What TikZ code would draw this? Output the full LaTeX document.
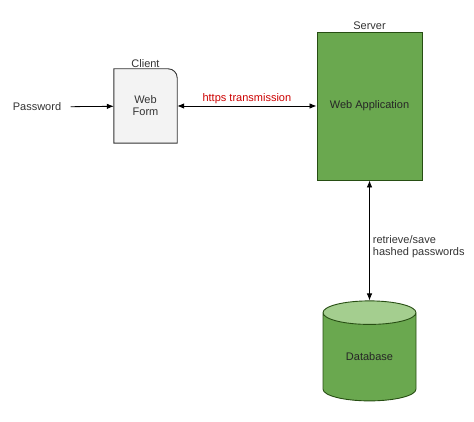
\documentclass[tikz,border=0pt]{standalone}
\usepackage{fontspec}
\setmainfont{Liberation Sans}
\usepackage{xcolor}
\usepackage{tikz}
\usetikzlibrary{arrows.meta}
\usetikzlibrary{shapes.geometric}
\usetikzlibrary{backgrounds}
\definecolor{txtgray}{RGB}{51, 51, 51}
\definecolor{formfill}{RGB}{243, 243, 243}
\definecolor{appgreen}{RGB}{106, 168, 79}
\definecolor{lightgreen}{RGB}{164, 206, 143}
\definecolor{darkgreen}{RGB}{39, 78, 19}
\definecolor{linkred}{RGB}{204, 0, 0}

\begin{document}
\begin{tikzpicture}[x=1pt,y=-1pt,>={Latex[length=7pt,width=5.5pt]},
    font=\fontsize{11}{12}\selectfont, text=txtgray,
    formbox/.style={minimum width=63,minimum height=74,align=center,inner sep=0},
    appbox/.style={draw=darkgreen,fill=appgreen,line width=0.9pt,minimum width=105,
      minimum height=148,text=black!85},
    dbcyl/.style={cylinder,shape border rotate=90,aspect=0.5,draw=darkgreen,
      line width=0.9pt,cylinder uses custom fill,cylinder body fill=appgreen,
      cylinder end fill=lightgreen,minimum width=93,minimum height=100,inner sep=0,
      text=black!85}]
  \useasboundingbox (0,0) rectangle (474,422);
  \node (pw) at (37,107) {Password};
  \node[formbox] (wf) at (145.5,106) {Web\\Form};
  \begin{scope}[on background layer]
    \filldraw[draw=txtgray,fill=formfill,line width=0.9pt]
      (wf.south west) -- (wf.north west) [rounded corners=9] -- (wf.north east)
      [sharp corners] -- (wf.south east) -- cycle;
  \end{scope}
  \node[anchor=south,inner sep=1] (cl) at (wf.north) {Client};
  \node[appbox] (app) at (369.5,106) {Web Application};
  \node[anchor=south,inner sep=2] (srv) at (app.north) {Server};
  \node[dbcyl] (db) at (369.5,357) {Database};
  \path[->,draw=black,line width=0.8pt]
    (pw) edge[shorten <=6] (wf)
    (wf) edge[<->] node[above,text=linkred,inner sep=2] {https transmission} (app)
    (app) edge[<->] node[right,pos=0.55,align=left,inner sep=3]
      {retrieve/save\\hashed passwords} (db);
\end{tikzpicture}
\end{document}
